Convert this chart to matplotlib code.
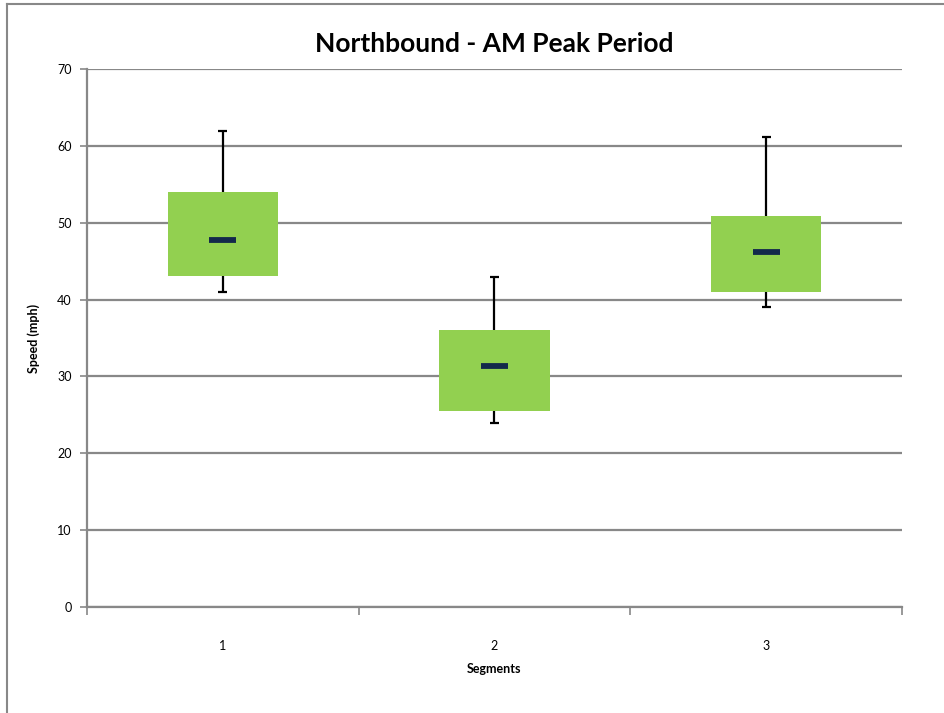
import matplotlib.pyplot as plt
from matplotlib.lines import Line2D
import numpy as np

# Box plot data (speed in mph)
segments = [1, 2, 3]
whisker_lo = [41.0, 24.0, 39.0]
box_lo = [43.1, 25.5, 41.0]
median = [47.8, 31.4, 46.2]
box_hi = [54.0, 36.0, 50.9]
whisker_hi = [61.9, 43.0, 61.1]

plt.rcParams['font.family'] = ['Lato', 'DejaVu Sans']

fig = plt.figure(figsize=(9.45, 7.13), dpi=100)
ax = fig.add_axes([87 / 945, 1 - 607 / 713, (902 - 87) / 945, (607 - 69) / 713])

x = np.array(segments, dtype=float)
lo = np.array(box_lo)
hi = np.array(box_hi)

# Grid
ax.set_axisbelow(True)
ax.yaxis.grid(True, color='#888888', linewidth=1.6)

# Boxes
ax.bar(x, hi - lo, bottom=lo, width=0.405, color='#92D050', zorder=2)

# Whiskers
ax.vlines(x, hi, whisker_hi, color='black', linewidth=1.6, zorder=1)
ax.vlines(x, whisker_lo, lo, color='black', linewidth=1.6, zorder=1)
ax.hlines(whisker_hi, x - 0.017, x + 0.017, color='black', linewidth=1.6, zorder=3)
ax.hlines(whisker_lo, x - 0.017, x + 0.017, color='black', linewidth=1.6, zorder=3)

# Median marks
ax.hlines(median, x - 0.05, x + 0.05, color='#13294B', linewidth=4.2, zorder=4)

ax.set_xlim(0.5, 3.5)
ax.set_ylim(0, 70)
ax.set_yticks(np.arange(0, 71, 10))

# Ticks at category boundaries, labels centred
ax.set_xticks([0.5, 1.5, 2.5, 3.5])
ax.set_xticklabels([])
ax.set_xticks(x, minor=True)
ax.set_xticklabels([str(s) for s in segments], minor=True)
ax.tick_params(axis='x', which='major', length=6, color='#888888', width=1.2)
ax.tick_params(axis='x', which='minor', length=0, pad=24, labelsize=9)
ax.tick_params(axis='y', length=5, color='#888888', width=1.2, labelsize=9, pad=6)

for side in ['top', 'right']:
    ax.spines[side].set_visible(False)
for side in ['left', 'bottom']:
    ax.spines[side].set_color('#888888')
    ax.spines[side].set_linewidth(1.6)

ax.set_title('Northbound - AM Peak Period', fontsize=19, fontweight='bold', pad=12)
ax.set_xlabel('Segments', fontsize=9, fontweight='bold', labelpad=8)
ax.set_ylabel('Speed (mph)', fontsize=9, fontweight='bold', labelpad=12)

# Outer chart frame (partly cut off on the right and bottom)
fig.add_artist(Line2D([7 / 945, 7 / 945], [0, 1 - 4 / 713], color='#888888', linewidth=1.5))
fig.add_artist(Line2D([7 / 945, 1], [1 - 4 / 713, 1 - 4 / 713], color='#888888', linewidth=1.5))

fig.savefig('out.png', dpi=100)
